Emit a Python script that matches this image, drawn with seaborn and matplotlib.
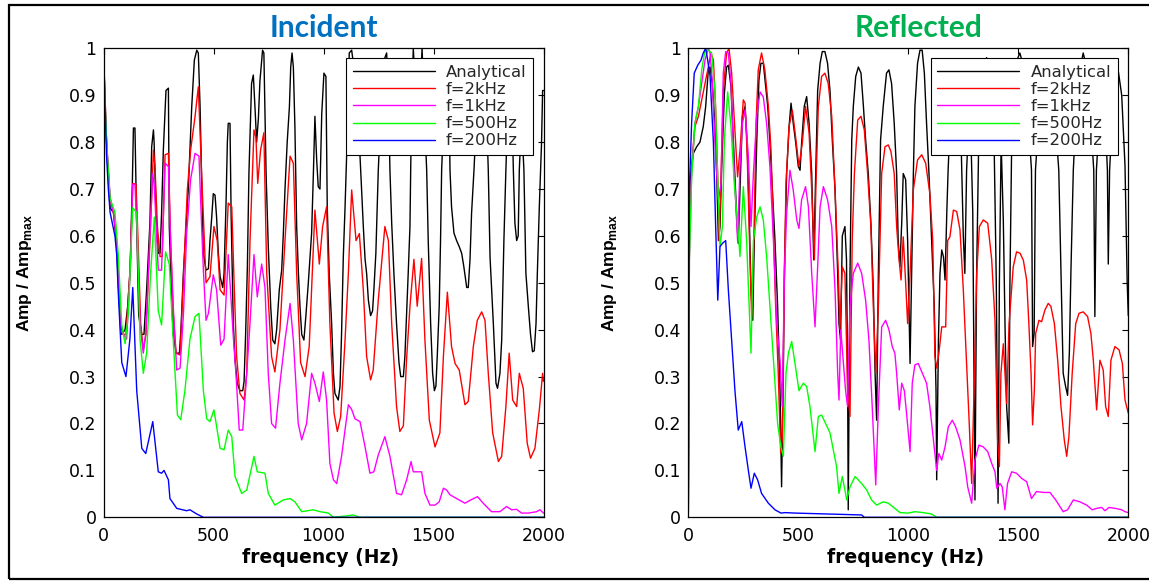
import matplotlib
matplotlib.use("Agg")
import matplotlib.pyplot as plt
import seaborn as sns
import pandas as pd
from matplotlib.patches import Rectangle

# ---------------- data (frequency Hz, normalised amplitude) ----------------
inc_ana = [(0,1.0),(7,0.88),(14,0.80),(22,0.72),(30,0.66),(45,0.65),(60,0.58),(67,0.50),(75,0.43),(83,0.39),(98,0.40),(110,0.45),(121,0.53),(131,0.71),(136,0.83),(143,0.83),(151,0.62),(160,0.43),(174,0.39),(184,0.39),(196,0.485),(211,0.627),(219,0.79),(227,0.826),(230,0.80),(239,0.648),(249,0.563),(257,0.563),(264,0.648),(272,0.783),(284,0.91),(295,0.915),(299,0.62),(310,0.463),(317,0.39),(330,0.35),(345,0.35),(352,0.40),(363,0.52),(370,0.577),(378,0.64),(386,0.705),(393,0.783),(401,0.875),(413,0.975),(424,0.996),(431,0.99),(439,0.875),(446,0.72),(454,0.563),(466,0.527),(477,0.53),(484,0.59),(492,0.64),(499,0.69),(507,0.687),(514,0.64),(522,0.563),(530,0.513),(542,0.49),(548,0.52),(557,0.67),(563,0.80),(567,0.84),(575,0.84),(580,0.648),(590,0.413),(598,0.335),(608,0.286),(620,0.27),(633,0.27),(639,0.29),(646,0.39),(654,0.535),(661,0.733),(673,0.925),(681,0.943),(689,0.87),(696,0.80),(704,0.85),(711,0.93),(723,0.996),(729,0.99),(739,0.733),(749,0.577),(760,0.45),(769,0.378),(779,0.37),(787,0.40),(799,0.485),(810,0.527),(817,0.60),(825,0.70),(835,0.80),(845,0.875),(851,0.96),(857,0.99),(863,0.96),(870,0.833),(878,0.62),(886,0.52),(893,0.45),(901,0.39),(911,0.378),(920,0.43),(931,0.50),(938,0.55),(946,0.606),(954,0.733),(961,0.855),(969,0.762),(976,0.705),(984,0.70),(992,0.86),(1002,0.947),(1011,0.94),(1017,0.662),(1026,0.52),(1037,0.413),(1045,0.307),(1052,0.264),(1067,0.25),(1075,0.279),(1082,0.39),(1090,0.555),(1098,0.662),(1105,0.769),(1113,0.868),(1117,0.99),(1128,0.996),(1138,0.96),(1158,0.85),(1181,0.62),(1189,0.55),(1196,0.52),(1204,0.463),(1214,0.43),(1223,0.44),(1229,0.485),(1238,0.563),(1249,0.74),(1264,0.90),(1279,0.98),(1287,0.99),(1295,0.90),(1302,0.74),(1310,0.627),(1320,0.52),(1332,0.413),(1343,0.33),(1351,0.30),(1363,0.30),(1370,0.343),(1378,0.435),(1385,0.52),(1393,0.62),(1398,0.80),(1408,1.0),(1420,0.90),(1435,0.86),(1448,1.0),(1462,0.82),(1469,0.74),(1476,0.59),(1487,0.413),(1496,0.307),(1504,0.27),(1511,0.28),(1517,0.343),(1526,0.45),(1532,0.59),(1537,0.74),(1550,0.90),(1562,0.95),(1572,0.85),(1575,0.74),(1582,0.662),(1593,0.606),(1605,0.59),(1617,0.577),(1628,0.563),(1638,0.534),(1651,0.49),(1658,0.49),(1666,0.55),(1673,0.648),(1684,0.74),(1700,0.90),(1715,0.95),(1730,0.90),(1745,0.80),(1749,0.74),(1757,0.555),(1772,0.413),(1784,0.286),(1791,0.275),(1802,0.307),(1810,0.378),(1820,0.59),(1829,0.74),(1840,0.90),(1850,0.94),(1860,0.80),(1863,0.74),(1870,0.627),(1878,0.59),(1885,0.60),(1890,0.74),(1900,0.85),(1911,0.74),(1920,0.52),(1931,0.45),(1941,0.39),(1950,0.353),(1958,0.355),(1966,0.413),(1972,0.52),(1981,0.662),(1991,0.797),(1996,0.91),(2000,0.91)]

inc_2k = [(0,0.99),(14,0.80),(30,0.68),(42,0.655),(52,0.64),(67,0.52),(78,0.40),(90,0.39),(102,0.39),(121,0.527),(133,0.712),(148,0.71),(158,0.577),(169,0.413),(181,0.357),(193,0.39),(211,0.59),(227,0.783),(234,0.748),(245,0.62),(257,0.556),(267,0.556),(280,0.773),(295,0.776),(305,0.59),(317,0.435),(330,0.35),(348,0.346),(363,0.506),(381,0.698),(396,0.783),(416,0.854),(431,0.918),(446,0.733),(457,0.606),(466,0.50),(484,0.513),(502,0.62),(517,0.59),(530,0.485),(548,0.474),(567,0.67),(583,0.662),(593,0.51),(605,0.343),(620,0.264),(639,0.25),(651,0.307),(666,0.59),(684,0.826),(693,0.81),(701,0.712),(714,0.783),(729,0.82),(742,0.52),(764,0.343),(779,0.31),(802,0.40),(825,0.59),(848,0.77),(863,0.755),(878,0.52),(896,0.33),(916,0.30),(935,0.364),(961,0.655),(981,0.54),(996,0.62),(1014,0.662),(1029,0.413),(1048,0.222),(1063,0.183),(1078,0.215),(1098,0.378),(1113,0.52),(1128,0.698),(1148,0.59),(1163,0.605),(1181,0.485),(1196,0.343),(1214,0.293),(1226,0.314),(1249,0.463),(1279,0.62),(1295,0.59),(1310,0.413),(1332,0.236),(1347,0.183),(1363,0.195),(1378,0.34),(1393,0.45),(1411,0.55),(1426,0.45),(1446,0.552),(1461,0.378),(1481,0.207),(1507,0.15),(1529,0.18),(1545,0.343),(1563,0.48),(1582,0.364),(1598,0.328),(1617,0.314),(1643,0.24),(1658,0.247),(1681,0.364),(1699,0.42),(1719,0.438),(1734,0.42),(1749,0.307),(1769,0.18),(1795,0.119),(1810,0.13),(1829,0.236),(1844,0.35),(1860,0.25),(1878,0.236),(1890,0.307),(1908,0.275),(1926,0.158),(1941,0.126),(1961,0.147),(1981,0.229),(1996,0.307),(2000,0.29)]

inc_1k = [(0,0.99),(14,0.80),(30,0.68),(45,0.65),(60,0.59),(67,0.52),(78,0.40),(90,0.39),(105,0.38),(121,0.52),(133,0.71),(143,0.71),(154,0.59),(166,0.413),(181,0.35),(192,0.392),(207,0.556),(224,0.733),(231,0.705),(249,0.527),(264,0.527),(280,0.755),(295,0.748),(305,0.59),(317,0.45),(333,0.314),(348,0.318),(363,0.43),(378,0.605),(396,0.72),(416,0.776),(434,0.77),(446,0.62),(454,0.527),(466,0.42),(477,0.435),(499,0.517),(514,0.485),(533,0.367),(548,0.38),(567,0.56),(578,0.478),(590,0.385),(602,0.307),(617,0.186),(633,0.186),(651,0.307),(666,0.414),(684,0.56),(699,0.47),(719,0.54),(734,0.49),(749,0.307),(764,0.20),(782,0.19),(802,0.286),(825,0.378),(848,0.456),(863,0.378),(885,0.20),(901,0.165),(923,0.20),(946,0.307),(961,0.286),(981,0.247),(999,0.31),(1014,0.25),(1029,0.115),(1045,0.08),(1060,0.072),(1082,0.13),(1113,0.24),(1128,0.23),(1143,0.21),(1166,0.204),(1189,0.15),(1211,0.094),(1229,0.097),(1249,0.133),(1279,0.172),(1302,0.13),(1332,0.051),(1355,0.048),(1378,0.08),(1398,0.119),(1408,0.097),(1446,0.097),(1461,0.051),(1484,0.026),(1507,0.026),(1526,0.033),(1545,0.062),(1560,0.058),(1575,0.048),(1605,0.04),(1643,0.03),(1669,0.037),(1700,0.044),(1726,0.03),(1764,0.012),(1802,0.012),(1832,0.023),(1855,0.016),(1878,0.017),(1900,0.009),(1931,0.009),(1969,0.012),(1984,0.016),(2000,0.009)]

inc_500 = [(0,0.98),(14,0.80),(30,0.68),(52,0.65),(67,0.56),(83,0.41),(98,0.37),(113,0.435),(133,0.66),(151,0.65),(166,0.38),(181,0.307),(196,0.35),(214,0.52),(231,0.64),(249,0.44),(264,0.41),(282,0.566),(299,0.54),(317,0.378),(336,0.218),(351,0.208),(370,0.27),(393,0.38),(416,0.428),(434,0.435),(454,0.27),(469,0.21),(484,0.204),(502,0.229),(530,0.147),(548,0.144),(567,0.186),(583,0.172),(598,0.087),(628,0.051),(651,0.058),(684,0.13),(699,0.097),(734,0.094),(749,0.051),(779,0.026),(817,0.037),(848,0.04),(870,0.033),(901,0.012),(954,0.016),(984,0.012),(1022,0.009),(1045,0.0),(1105,0.003),(1135,0.005),(1166,0.0),(2000,0.0)]

inc_200 = [(0,0.99),(7,0.875),(14,0.77),(22,0.70),(30,0.65),(52,0.60),(60,0.56),(67,0.48),(83,0.33),(102,0.30),(120,0.38),(133,0.49),(151,0.27),(174,0.147),(192,0.136),(224,0.204),(249,0.097),(264,0.094),(275,0.10),(295,0.08),(302,0.04),(333,0.019),(378,0.014),(393,0.016),(424,0.007),(454,0.0),(2000,0.0)]

ref_ana = [(0,0.0),(4,0.60),(8,0.72),(23,0.776),(38,0.79),(53,0.80),(68,0.833),(79,0.876),(91,0.954),(99,0.96),(109,0.925),(121,0.84),(129,0.733),(137,0.59),(144,0.62),(152,0.748),(164,0.904),(174,0.96),(182,0.964),(194,0.918),(205,0.80),(220,0.64),(227,0.584),(235,0.698),(246,0.855),(258,0.876),(267,0.80),(276,0.662),(285,0.485),(293,0.42),(300,0.59),(311,0.80),(321,0.932),(330,0.968),(341,0.968),(349,0.932),(361,0.876),(371,0.80),(382,0.698),(394,0.59),(406,0.45),(417,0.27),(424,0.065),(432,0.307),(437,0.534),(447,0.733),(458,0.833),(467,0.883),(477,0.84),(488,0.80),(500,0.748),(508,0.74),(515,0.797),(527,0.876),(538,0.897),(549,0.84),(561,0.733),(570,0.549),(580,0.75),(588,0.91),(599,0.968),(609,0.993),(621,0.993),(633,0.968),(644,0.91),(655,0.80),(667,0.698),(679,0.52),(685,0.413),(692,0.378),(700,0.60),(712,0.62),(719,0.55),(724,0.307),(727,0.016),(735,0.52),(743,0.805),(750,0.876),(761,0.94),(773,0.96),(785,0.947),(796,0.876),(806,0.805),(818,0.733),(830,0.627),(841,0.485),(849,0.307),(856,0.207),(864,0.52),(874,0.805),(886,0.876),(901,0.947),(912,0.954),(924,0.925),(936,0.84),(947,0.733),(954,0.59),(962,0.534),(970,0.627),(977,0.733),(988,0.72),(997,0.59),(1008,0.328),(1015,0.52),(1023,0.733),(1030,0.876),(1042,0.968),(1053,0.996),(1063,0.996),(1073,0.947),(1083,0.84),(1094,0.733),(1106,0.59),(1118,0.45),(1126,0.27),(1129,0.08),(1137,0.378),(1144,0.52),(1152,0.57),(1160,0.555),(1167,0.506),(1175,0.65),(1181,0.74),(1195,0.90),(1210,0.96),(1225,0.92),(1240,0.80),(1250,0.60),(1257,0.52),(1265,0.74),(1280,0.90),(1293,0.65),(1303,0.037),(1310,0.50),(1320,0.80),(1335,0.95),(1356,0.98),(1375,0.95),(1390,0.80),(1400,0.50),(1408,0.03),(1414,0.50),(1422,0.80),(1432,0.63),(1440,0.40),(1447,0.236),(1457,0.158),(1462,0.50),(1470,0.80),(1490,0.97),(1507,0.99),(1525,0.96),(1545,0.85),(1560,0.74),(1565,0.364),(1572,0.392),(1578,0.74),(1600,0.90),(1630,0.95),(1660,0.90),(1684,0.74),(1694,0.52),(1704,0.307),(1715,0.279),(1724,0.26),(1732,0.35),(1739,0.52),(1750,0.74),(1770,0.93),(1795,0.99),(1815,0.95),(1835,0.80),(1843,0.74),(1848,0.428),(1855,0.74),(1875,0.90),(1895,0.85),(1905,0.74),(1909,0.54),(1915,0.74),(1935,0.92),(1955,0.95),(1970,0.90),(1985,0.75),(1995,0.50),(2000,0.43)]

ref_2k = [(0,0.0),(5,0.60),(15,0.748),(30,0.833),(46,0.855),(61,0.89),(76,0.925),(91,0.96),(103,0.99),(114,0.975),(124,0.876),(134,0.72),(140,0.59),(149,0.733),(159,0.91),(174,0.99),(185,1.0),(197,0.947),(212,0.826),(224,0.726),(235,0.783),(250,0.89),(258,0.883),(268,0.77),(280,0.556),(288,0.428),(299,0.613),(308,0.84),(318,0.954),(333,0.99),(348,0.954),(364,0.876),(376,0.783),(386,0.627),(397,0.45),(409,0.307),(420,0.136),(427,0.165),(435,0.45),(444,0.712),(458,0.833),(473,0.868),(488,0.81),(503,0.748),(518,0.797),(533,0.876),(549,0.82),(561,0.698),(573,0.549),(580,0.705),(591,0.876),(606,0.94),(621,0.947),(636,0.925),(652,0.855),(667,0.698),(682,0.52),(689,0.40),(700,0.534),(712,0.52),(724,0.27),(735,0.215),(745,0.59),(755,0.733),(770,0.847),(785,0.855),(800,0.826),(815,0.733),(830,0.62),(841,0.45),(852,0.307),(864,0.45),(879,0.733),(894,0.79),(909,0.794),(921,0.78),(936,0.733),(947,0.62),(958,0.55),(967,0.506),(977,0.598),(988,0.50),(997,0.413),(1008,0.52),(1023,0.698),(1042,0.762),(1061,0.773),(1079,0.755),(1098,0.69),(1111,0.59),(1121,0.343),(1129,0.318),(1139,0.35),(1152,0.406),(1170,0.406),(1179,0.59),(1189,0.598),(1205,0.655),(1220,0.652),(1235,0.613),(1250,0.485),(1265,0.328),(1277,0.20),(1288,0.072),(1300,0.293),(1311,0.52),(1323,0.62),(1341,0.634),(1361,0.627),(1379,0.55),(1394,0.42),(1406,0.165),(1414,0.108),(1421,0.307),(1432,0.37),(1447,0.243),(1458,0.413),(1477,0.534),(1492,0.566),(1508,0.563),(1523,0.548),(1538,0.506),(1548,0.413),(1558,0.307),(1565,0.197),(1573,0.27),(1579,0.392),(1594,0.42),(1606,0.417),(1621,0.442),(1636,0.456),(1648,0.45),(1664,0.413),(1679,0.335),(1694,0.236),(1709,0.165),(1720,0.13),(1730,0.172),(1745,0.307),(1761,0.413),(1776,0.435),(1795,0.438),(1815,0.428),(1830,0.392),(1841,0.335),(1856,0.229),(1871,0.335),(1886,0.314),(1897,0.236),(1909,0.215),(1921,0.335),(1939,0.364),(1958,0.357),(1973,0.328),(1985,0.25),(2000,0.222)]

ref_1k = [(0,0.0),(5,0.55),(15,0.733),(30,0.84),(46,0.876),(61,0.925),(76,0.975),(91,1.0),(99,0.99),(109,0.93),(124,0.77),(137,0.677),(149,0.712),(159,0.947),(170,0.993),(182,0.99),(194,0.925),(209,0.733),(224,0.59),(235,0.748),(246,0.84),(258,0.868),(273,0.77),(285,0.62),(296,0.733),(311,0.855),(326,0.907),(341,0.896),(356,0.84),(371,0.748),(387,0.59),(402,0.413),(417,0.335),(427,0.236),(437,0.52),(447,0.648),(462,0.74),(477,0.698),(493,0.634),(503,0.616),(515,0.677),(533,0.705),(546,0.662),(561,0.52),(576,0.406),(588,0.534),(599,0.662),(614,0.705),(633,0.677),(652,0.62),(667,0.485),(679,0.307),(685,0.25),(693,0.40),(705,0.33),(715,0.27),(724,0.236),(735,0.45),(750,0.52),(770,0.542),(788,0.52),(806,0.463),(821,0.378),(836,0.236),(852,0.069),(864,0.236),(879,0.406),(897,0.42),(912,0.40),(927,0.364),(939,0.35),(947,0.307),(959,0.229),(970,0.286),(982,0.27),(992,0.222),(1008,0.14),(1018,0.286),(1030,0.325),(1045,0.328),(1064,0.307),(1083,0.286),(1098,0.236),(1114,0.165),(1129,0.10),(1139,0.136),(1152,0.122),(1167,0.15),(1182,0.193),(1200,0.207),(1215,0.193),(1235,0.165),(1258,0.108),(1270,0.065),(1288,0.03),(1303,0.122),(1321,0.154),(1341,0.15),(1361,0.14),(1379,0.115),(1394,0.097),(1402,0.062),(1417,0.072),(1427,0.065),(1439,0.016),(1451,0.072),(1470,0.097),(1492,0.094),(1515,0.083),(1538,0.076),(1560,0.04),(1583,0.055),(1614,0.053),(1644,0.053),(1670,0.037),(1704,0.012),(1724,0.016),(1750,0.037),(1780,0.033),(1811,0.026),(1836,0.016),(1856,0.019),(1879,0.021),(1894,0.014),(1912,0.021),(1942,0.019),(1970,0.016),(1985,0.012),(2000,0.01)]

ref_500 = [(0,0.0),(5,0.55),(15,0.72),(30,0.84),(46,0.876),(61,0.954),(76,0.996),(91,0.996),(106,0.99),(121,0.91),(134,0.72),(144,0.577),(155,0.62),(164,0.805),(179,0.907),(194,0.833),(209,0.712),(224,0.627),(235,0.556),(250,0.705),(265,0.59),(285,0.35),(296,0.59),(311,0.64),(326,0.662),(341,0.634),(356,0.556),(371,0.45),(391,0.307),(406,0.20),(421,0.15),(432,0.13),(444,0.307),(455,0.35),(470,0.375),(485,0.328),(503,0.27),(523,0.286),(538,0.279),(553,0.236),(576,0.14),(591,0.215),(606,0.218),(624,0.20),(644,0.18),(659,0.144),(674,0.108),(685,0.051),(700,0.087),(712,0.058),(720,0.037),(735,0.065),(758,0.087),(788,0.072),(811,0.058),(833,0.037),(856,0.026),(886,0.033),(909,0.03),(939,0.019),(962,0.01),(1000,0.009),(1030,0.012),(1068,0.01),(1106,0.007),(1129,0.0),(2000,0.0)]

ref_200 = [(0,0.0),(5,0.70),(15,0.84),(27,0.947),(43,0.964),(58,0.975),(68,0.99),(79,1.0),(88,0.975),(99,0.94),(114,0.80),(124,0.627),(134,0.463),(144,0.577),(155,0.584),(170,0.59),(182,0.485),(197,0.378),(212,0.27),(227,0.186),(243,0.204),(258,0.15),(273,0.10),(285,0.062),(300,0.094),(315,0.08),(333,0.051),(364,0.03),(394,0.016),(421,0.009),(440,0.01),(485,0.009),(788,0.005),(800,0.0),(2000,0.0)]

series_labels = ["Analytical", "f=2kHz", "f=1kHz", "f=500Hz", "f=200Hz"]
series_colors = ["#000000", "#FF0000", "#FF00FF", "#00FF00", "#0000FF"]
panel_titles = ["Incident", "Reflected"]
title_colors = ["#0070C0", "#00B050"]
x_ticks = [0, 500, 1000, 1500, 2000]
x_ticklabels = ["0", "500", "1000", "1500", "2000"]
y_ticks = [0, 0.1, 0.2, 0.3, 0.4, 0.5, 0.6, 0.7, 0.8, 0.9, 1.0]
y_ticklabels = ["0", "0.1", "0.2", "0.3", "0.4", "0.5", "0.6", "0.7", "0.8", "0.9", "1"]

panels = [
    [inc_ana, inc_2k, inc_1k, inc_500, inc_200],
    [ref_ana, ref_2k, ref_1k, ref_500, ref_200],
]

# ---------------- styling ----------------
sns.set_theme(style="white")
plt.rcParams["font.family"] = ["DejaVu Sans"]
plt.rcParams["mathtext.fontset"] = "custom"
plt.rcParams["mathtext.rm"] = "Liberation Sans:bold"
plt.rcParams["mathtext.bf"] = "Liberation Sans:bold"

W, H = 1149, 583
fig = plt.figure(figsize=(W / 100, H / 100), dpi=100)
fig.patch.set_facecolor("white")

ax_left_px = [103.5, 688.3]
ax_top_px, ax_bot_px, ax_w_px = 48.3, 517.3, 440.0
title_x_px = [324, 919]

for i, series in enumerate(panels):
    ax = fig.add_axes([ax_left_px[i] / W, (H - ax_bot_px) / H, ax_w_px / W, (ax_bot_px - ax_top_px) / H])
    for lab, col, pts in zip(series_labels, series_colors, series):
        df = pd.DataFrame(pts, columns=["f", "a"])
        sns.lineplot(data=df, x="f", y="a", ax=ax, color=col, linewidth=1.0,
                     label=lab, estimator=None, sort=False)
    ax.set_xlim(0, 2000)
    ax.set_ylim(0, 1)
    ax.set_xticks(x_ticks)
    ax.set_xticklabels(x_ticklabels)
    ax.set_yticks(y_ticks)
    ax.set_yticklabels(y_ticklabels)
    ax.tick_params(direction="in", length=4, width=0.8, top=True, right=True,
                   labelsize=12.5, colors="black", pad=5)
    ax.tick_params(axis="x", pad=7)
    for sp in ax.spines.values():
        sp.set_color("black")
        sp.set_linewidth(0.9)
    ax.set_facecolor("white")
    ax.set_xlabel("frequency (Hz)", fontsize=13.5, fontweight="bold", color="black")
    ax.xaxis.set_label_coords(0.493, -0.066)
    ax.set_ylabel(r"Amp / Amp$_{\mathrm{max}}$", fontsize=12.5, fontweight="bold",
                  family="Liberation Sans", color="black")
    ax.yaxis.set_label_coords(-0.158, 0.52)
    leg = ax.legend(loc="upper right", bbox_to_anchor=(0.9768, 0.9787), borderaxespad=0,
                    frameon=True, fancybox=False, edgecolor="black", framealpha=1,
                    fontsize=11.8, handlelength=5.0, handletextpad=0.7,
                    labelspacing=0.13, borderpad=0.4)
    leg.get_frame().set_linewidth(0.8)
    fig.text(title_x_px[i] / W, 1 - 37 / H, panel_titles[i], ha="center", va="baseline",
             fontsize=21.5, fontweight="bold", family="Lato", color=title_colors[i])

fig.patches.append(Rectangle((9 / W, 1 - 579 / H), 1.2, (579 - 4.5) / H, transform=fig.transFigure,
                             fill=False, edgecolor="black", linewidth=1.6, clip_on=False))

fig.savefig("out.png", dpi=100, facecolor="white")
